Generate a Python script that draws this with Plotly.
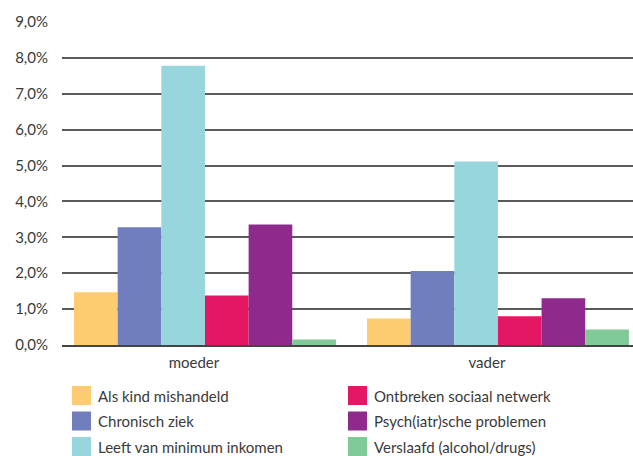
import plotly.graph_objects as go

# Percentages per group of parents
groups = ["moeder", "vader"]
series = [
    "Als kind mishandeld",
    "Chronisch ziek",
    "Leeft van minimum inkomen",
    "Ontbreken sociaal netwerk",
    "Psych(iatr)sche problemen",
    "Verslaafd (alcohol/drugs)",
]
als_kind_mishandeld = [1.47, 0.74]
chronisch_ziek = [3.28, 2.06]
minimum_inkomen = [7.78, 5.11]
ontbreken_netwerk = [1.38, 0.80]
psychische_problemen = [3.36, 1.30]
verslaafd = [0.15, 0.43]
values = [als_kind_mishandeld, chronisch_ziek, minimum_inkomen,
          ontbreken_netwerk, psychische_problemen, verslaafd]
colors = ["#FECC70", "#717EBD", "#97D6DD", "#E31764", "#8E2A8B", "#80CA98"]

W, H = 633, 456
FONT = "Lato"
TEXT = "#3a3a3a"

fig = go.Figure()
for name, vals, col in zip(series, values, colors):
    fig.add_trace(go.Bar(x=groups, y=vals, name=name, marker_color=col,
                         marker_line_width=0, showlegend=False))

# Legend: two columns of three entries, square swatches
col_x = [72, 348]
row_y = [386, 411.5, 437]
sw = 19
for i, (name, col) in enumerate(zip(series, colors)):
    cx = col_x[i // 3]
    ry = row_y[i % 3]
    fig.add_shape(type="rect", xref="paper", yref="paper",
                  x0=(cx - 62) / (W - 62), x1=(cx + sw - 62) / (W - 62),
                  y0=(345 - ry) / (345 - 22), y1=(345 - ry - sw) / (345 - 22),
                  fillcolor=col, line_width=0, layer="above")
    fig.add_annotation(xref="paper", yref="paper",
                       x=(cx + sw + 5 - 62) / (W - 62),
                       y=(345 - ry - sw / 2) / (345 - 22),
                       text=name, showarrow=False, xanchor="left", yanchor="middle",
                       font=dict(family=FONT, size=15, color=TEXT))

fig.update_layout(
    width=W, height=H,
    margin=dict(l=62, r=0, t=22, b=111),
    plot_bgcolor="white", paper_bgcolor="white",
    barmode="group", bargap=0.106, bargroupgap=0,
    separators=",.",
    font=dict(family=FONT, size=15, color=TEXT),
)
fig.update_xaxes(range=[-0.488, 1.461], showgrid=False, ticks="",
                 showline=True, linecolor="#444", linewidth=1.5,
                 ticklabelshift=-11, ticklabelstandoff=3,
                 tickfont=dict(family=FONT, size=15, color=TEXT))
fig.update_yaxes(range=[0, 9], dtick=1, tick0=0, tickformat=".1f", ticksuffix="%",
                 showgrid=True, gridcolor="#5a5a5a", gridwidth=1.5,
                 zeroline=False, ticks="", ticklabelstandoff=13,
                 tickfont=dict(family=FONT, size=15, color=TEXT))

fig.write_html("out.html")
